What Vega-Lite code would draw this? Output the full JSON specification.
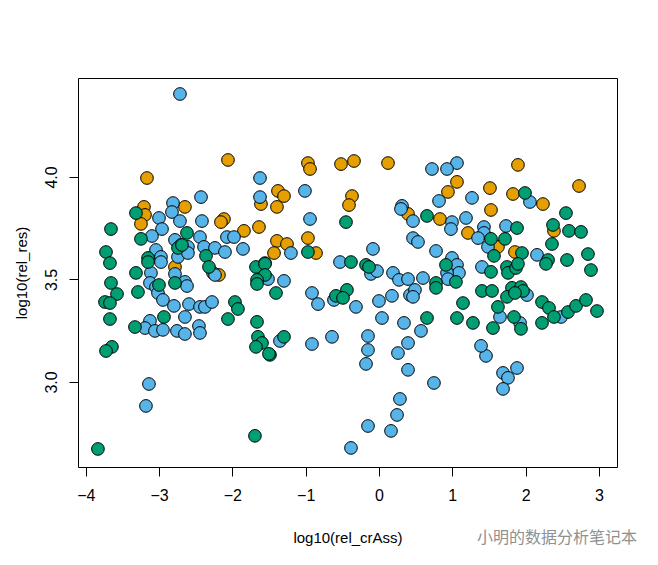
{
  "$schema": "https://vega.github.io/schema/vega-lite/v6.json",
  "width": 539,
  "height": 389,
  "autosize": {"type": "none"},
  "padding": {"left": 78, "top": 78, "right": 41, "bottom": 98},
  "background": "white",
  "config": {
    "font": "Liberation Sans",
    "view": {"stroke": "black", "strokeWidth": 1},
    "axis": {"grid": false, "domain": false, "tickColor": "black", "tickSize": 9, "tickWidth": 1, "labelColor": "black", "labelFontSize": 16, "labelFont": "Liberation Sans", "titleFont": "Liberation Sans", "titleFontSize": 15, "titleFontWeight": "normal", "titleColor": "black"}
  },
  "title": {"text": "小明的数据分析笔记本", "orient": "bottom", "anchor": "end", "font": "Noto Sans CJK SC", "fontSize": 16, "fontWeight": "normal", "color": "#909090", "dx": 20, "offset": -15},
  "data": {"values": [
    {"x": -2.06, "y": 4.083, "g": "A"}, {"x": -3.165, "y": 3.995, "g": "A"}, {"x": -2.647, "y": 3.854, "g": "A"}, {"x": -3.206, "y": 3.854, "g": "A"}, {"x": -3.192, "y": 3.815, "g": "A"}, {"x": -3.247, "y": 3.771, "g": "A"}, {"x": -2.115, "y": 3.795, "g": "A"}, {"x": -2.156, "y": 3.78, "g": "A"}, {"x": -1.842, "y": 3.737, "g": "A"}, {"x": -1.637, "y": 3.756, "g": "A"}, {"x": -2.783, "y": 3.561, "g": "A"}, {"x": -2.183, "y": 3.522, "g": "A"}, {"x": -0.969, "y": 4.068, "g": "A"}, {"x": -0.941, "y": 4.039, "g": "A"}, {"x": -0.518, "y": 4.063, "g": "A"}, {"x": -0.341, "y": 4.078, "g": "A"}, {"x": 0.123, "y": 4.068, "g": "A"}, {"x": -1.378, "y": 3.932, "g": "A"}, {"x": -1.296, "y": 3.907, "g": "A"}, {"x": -1.61, "y": 3.868, "g": "A"}, {"x": -1.392, "y": 3.854, "g": "A"}, {"x": -0.368, "y": 3.907, "g": "A"}, {"x": -0.409, "y": 3.863, "g": "A"}, {"x": 0.396, "y": 3.82, "g": "A"}, {"x": 0.832, "y": 3.795, "g": "A"}, {"x": -1.392, "y": 3.688, "g": "A"}, {"x": -1.255, "y": 3.673, "g": "A"}, {"x": -0.969, "y": 3.702, "g": "A"}, {"x": -1.432, "y": 3.629, "g": "A"}, {"x": -0.859, "y": 3.629, "g": "A"}, {"x": 1.896, "y": 4.059, "g": "A"}, {"x": 1.064, "y": 3.976, "g": "A"}, {"x": 1.514, "y": 3.946, "g": "A"}, {"x": 2.729, "y": 3.956, "g": "A"}, {"x": 0.941, "y": 3.927, "g": "A"}, {"x": 1.828, "y": 3.917, "g": "A"}, {"x": 2.237, "y": 3.868, "g": "A"}, {"x": 1.528, "y": 3.839, "g": "A"}, {"x": 2.387, "y": 3.737, "g": "A"}, {"x": 1.214, "y": 3.727, "g": "A"}, {"x": 1.623, "y": 3.659, "g": "A"}, {"x": 1.855, "y": 3.634, "g": "A"},
    {"x": -2.715, "y": 4.405, "g": "B"}, {"x": -1.623, "y": 3.995, "g": "B"}, {"x": -2.428, "y": 3.902, "g": "B"}, {"x": -2.81, "y": 3.873, "g": "B"}, {"x": -1.623, "y": 3.902, "g": "B"}, {"x": -2.824, "y": 3.829, "g": "B"}, {"x": -3.001, "y": 3.8, "g": "B"}, {"x": -2.715, "y": 3.785, "g": "B"}, {"x": -2.415, "y": 3.785, "g": "B"}, {"x": -2.96, "y": 3.746, "g": "B"}, {"x": -3.097, "y": 3.712, "g": "B"}, {"x": -2.442, "y": 3.707, "g": "B"}, {"x": -2.074, "y": 3.707, "g": "B"}, {"x": -1.978, "y": 3.707, "g": "B"}, {"x": -2.783, "y": 3.693, "g": "B"}, {"x": -2.701, "y": 3.668, "g": "B"}, {"x": -2.606, "y": 3.659, "g": "B"}, {"x": -2.387, "y": 3.659, "g": "B"}, {"x": -2.237, "y": 3.654, "g": "B"}, {"x": -2.101, "y": 3.634, "g": "B"}, {"x": -1.855, "y": 3.649, "g": "B"}, {"x": -3.042, "y": 3.644, "g": "B"}, {"x": -2.974, "y": 3.61, "g": "B"}, {"x": -2.742, "y": 3.61, "g": "B"}, {"x": -2.606, "y": 3.629, "g": "B"}, {"x": -2.974, "y": 3.585, "g": "B"}, {"x": -3.111, "y": 3.532, "g": "B"}, {"x": -2.783, "y": 3.527, "g": "B"}, {"x": -2.265, "y": 3.532, "g": "B"}, {"x": -2.237, "y": 3.522, "g": "B"}, {"x": -3.124, "y": 3.483, "g": "B"}, {"x": -3.042, "y": 3.463, "g": "B"}, {"x": -2.647, "y": 3.488, "g": "B"}, {"x": -2.619, "y": 3.468, "g": "B"}, {"x": -3.015, "y": 3.434, "g": "B"}, {"x": -2.947, "y": 3.4, "g": "B"}, {"x": -2.797, "y": 3.371, "g": "B"}, {"x": -2.592, "y": 3.38, "g": "B"}, {"x": -2.442, "y": 3.366, "g": "B"}, {"x": -2.374, "y": 3.366, "g": "B"}, {"x": -2.278, "y": 3.39, "g": "B"}, {"x": -2.647, "y": 3.317, "g": "B"}, {"x": -3.124, "y": 3.298, "g": "B"}, {"x": -3.192, "y": 3.263, "g": "B"}, {"x": -3.056, "y": 3.249, "g": "B"}, {"x": -2.947, "y": 3.254, "g": "B"}, {"x": -2.756, "y": 3.249, "g": "B"}, {"x": -2.647, "y": 3.234, "g": "B"}, {"x": -2.456, "y": 3.273, "g": "B"}, {"x": -2.442, "y": 3.239, "g": "B"}, {"x": -3.138, "y": 2.99, "g": "B"}, {"x": -3.179, "y": 2.883, "g": "B"},
    {"x": 0.723, "y": 4.039, "g": "B"}, {"x": -1.01, "y": 3.932, "g": "B"}, {"x": 0.314, "y": 3.859, "g": "B"}, {"x": 0.3, "y": 3.844, "g": "B"}, {"x": 0.464, "y": 3.785, "g": "B"}, {"x": 0.819, "y": 3.883, "g": "B"}, {"x": -0.941, "y": 3.795, "g": "B"}, {"x": 0.464, "y": 3.702, "g": "B"}, {"x": 0.532, "y": 3.683, "g": "B"}, {"x": -0.082, "y": 3.649, "g": "B"}, {"x": 0.778, "y": 3.639, "g": "B"}, {"x": -1.201, "y": 3.629, "g": "B"}, {"x": -0.532, "y": 3.585, "g": "B"}, {"x": -1.555, "y": 3.58, "g": "B"}, {"x": -1.514, "y": 3.502, "g": "B"}, {"x": -1.296, "y": 3.493, "g": "B"}, {"x": -0.109, "y": 3.527, "g": "B"}, {"x": -0.027, "y": 3.541, "g": "B"}, {"x": 0.191, "y": 3.532, "g": "B"}, {"x": 0.273, "y": 3.498, "g": "B"}, {"x": 0.396, "y": 3.502, "g": "B"}, {"x": 0.6, "y": 3.507, "g": "B"}, {"x": -0.914, "y": 3.434, "g": "B"}, {"x": -0.832, "y": 3.38, "g": "B"}, {"x": -0.614, "y": 3.4, "g": "B"}, {"x": -0.314, "y": 3.366, "g": "B"}, {"x": 0.0, "y": 3.395, "g": "B"}, {"x": 0.177, "y": 3.42, "g": "B"}, {"x": 0.423, "y": 3.424, "g": "B"}, {"x": 0.491, "y": 3.449, "g": "B"}, {"x": 0.464, "y": 3.415, "g": "B"}, {"x": 0.041, "y": 3.312, "g": "B"}, {"x": 0.341, "y": 3.288, "g": "B"}, {"x": 0.573, "y": 3.249, "g": "B"}, {"x": -1.351, "y": 3.2, "g": "B"}, {"x": -0.914, "y": 3.185, "g": "B"}, {"x": -0.641, "y": 3.22, "g": "B"}, {"x": -0.15, "y": 3.224, "g": "B"}, {"x": -0.15, "y": 3.156, "g": "B"}, {"x": 0.396, "y": 3.19, "g": "B"}, {"x": 0.259, "y": 3.141, "g": "B"}, {"x": -0.177, "y": 3.088, "g": "B"}, {"x": 0.396, "y": 3.059, "g": "B"}, {"x": 0.75, "y": 2.995, "g": "B"}, {"x": 1.46, "y": 3.127, "g": "B"}, {"x": 1.392, "y": 3.176, "g": "B"}, {"x": 1.692, "y": 3.044, "g": "B"}, {"x": 1.76, "y": 3.02, "g": "B"}, {"x": 1.883, "y": 3.068, "g": "B"}, {"x": 1.692, "y": 2.966, "g": "B"}, {"x": 0.286, "y": 2.917, "g": "B"}, {"x": 0.246, "y": 2.839, "g": "B"}, {"x": -0.15, "y": 2.785, "g": "B"}, {"x": 0.164, "y": 2.761, "g": "B"}, {"x": -0.382, "y": 2.678, "g": "B"},
    {"x": 1.064, "y": 4.068, "g": "B"}, {"x": 0.928, "y": 4.039, "g": "B"}, {"x": 1.269, "y": 3.898, "g": "B"}, {"x": 2.06, "y": 3.878, "g": "B"}, {"x": 0.996, "y": 3.78, "g": "B"}, {"x": 0.982, "y": 3.746, "g": "B"}, {"x": 1.187, "y": 3.8, "g": "B"}, {"x": 1.432, "y": 3.756, "g": "B"}, {"x": 1.432, "y": 3.727, "g": "B"}, {"x": 1.351, "y": 3.702, "g": "B"}, {"x": 1.733, "y": 3.761, "g": "B"}, {"x": 1.487, "y": 3.659, "g": "B"}, {"x": 2.156, "y": 3.62, "g": "B"}, {"x": 0.996, "y": 3.605, "g": "B"}, {"x": 1.064, "y": 3.571, "g": "B"}, {"x": 1.091, "y": 3.532, "g": "B"}, {"x": 0.928, "y": 3.532, "g": "B"}, {"x": 0.941, "y": 3.502, "g": "B"}, {"x": 1.405, "y": 3.561, "g": "B"}, {"x": 2.019, "y": 3.424, "g": "B"}, {"x": 2.483, "y": 3.317, "g": "B"}, {"x": 1.651, "y": 3.317, "g": "B"}, {"x": 1.924, "y": 3.288, "g": "B"},
    {"x": -3.315, "y": 3.824, "g": "C"}, {"x": -3.656, "y": 3.746, "g": "C"}, {"x": -2.619, "y": 3.727, "g": "C"}, {"x": -3.247, "y": 3.698, "g": "C"}, {"x": -2.742, "y": 3.654, "g": "C"}, {"x": -2.688, "y": 3.668, "g": "C"}, {"x": -3.724, "y": 3.634, "g": "C"}, {"x": -3.151, "y": 3.605, "g": "C"}, {"x": -2.36, "y": 3.615, "g": "C"}, {"x": -3.67, "y": 3.58, "g": "C"}, {"x": -3.151, "y": 3.585, "g": "C"}, {"x": -3.315, "y": 3.532, "g": "C"}, {"x": -2.319, "y": 3.561, "g": "C"}, {"x": -1.678, "y": 3.561, "g": "C"}, {"x": -1.555, "y": 3.576, "g": "C"}, {"x": -1.555, "y": 3.522, "g": "C"}, {"x": -1.664, "y": 3.498, "g": "C"}, {"x": -1.664, "y": 3.478, "g": "C"}, {"x": -3.656, "y": 3.483, "g": "C"}, {"x": -3.574, "y": 3.429, "g": "C"}, {"x": -3.288, "y": 3.439, "g": "C"}, {"x": -3.001, "y": 3.473, "g": "C"}, {"x": -2.783, "y": 3.483, "g": "C"}, {"x": -3.738, "y": 3.39, "g": "C"}, {"x": -3.67, "y": 3.385, "g": "C"}, {"x": -1.965, "y": 3.39, "g": "C"}, {"x": -1.924, "y": 3.356, "g": "C"}, {"x": -2.06, "y": 3.307, "g": "C"}, {"x": -3.67, "y": 3.307, "g": "C"}, {"x": -2.933, "y": 3.317, "g": "C"}, {"x": -3.329, "y": 3.268, "g": "C"}, {"x": -1.664, "y": 3.293, "g": "C"}, {"x": -1.651, "y": 3.22, "g": "C"}, {"x": -1.596, "y": 3.19, "g": "C"}, {"x": -1.678, "y": 3.171, "g": "C"}, {"x": -3.643, "y": 3.171, "g": "C"}, {"x": -3.724, "y": 3.151, "g": "C"}, {"x": -1.487, "y": 3.132, "g": "C"}, {"x": -1.692, "y": 2.737, "g": "C"}, {"x": -3.834, "y": 2.673, "g": "C"},
    {"x": 0.655, "y": 3.81, "g": "C"}, {"x": -0.45, "y": 3.78, "g": "C"}, {"x": -0.969, "y": 3.634, "g": "C"}, {"x": -0.382, "y": 3.585, "g": "C"}, {"x": -0.177, "y": 3.571, "g": "C"}, {"x": -0.136, "y": 3.561, "g": "C"}, {"x": 0.778, "y": 3.483, "g": "C"}, {"x": 0.778, "y": 3.459, "g": "C"}, {"x": -1.405, "y": 3.434, "g": "C"}, {"x": -0.587, "y": 3.42, "g": "C"}, {"x": -0.437, "y": 3.449, "g": "C"}, {"x": -0.491, "y": 3.41, "g": "C"}, {"x": 0.655, "y": 3.312, "g": "C"}, {"x": -1.296, "y": 3.22, "g": "C"}, {"x": -1.501, "y": 3.137, "g": "C"},
    {"x": 1.992, "y": 3.922, "g": "C"}, {"x": 2.551, "y": 3.824, "g": "C"}, {"x": 2.374, "y": 3.766, "g": "C"}, {"x": 2.592, "y": 3.737, "g": "C"}, {"x": 2.756, "y": 3.732, "g": "C"}, {"x": 1.883, "y": 3.751, "g": "C"}, {"x": 1.528, "y": 3.698, "g": "C"}, {"x": 1.719, "y": 3.698, "g": "C"}, {"x": 2.36, "y": 3.673, "g": "C"}, {"x": 1.569, "y": 3.615, "g": "C"}, {"x": 1.951, "y": 3.629, "g": "C"}, {"x": 2.306, "y": 3.595, "g": "C"}, {"x": 2.278, "y": 3.576, "g": "C"}, {"x": 2.565, "y": 3.595, "g": "C"}, {"x": 2.851, "y": 3.624, "g": "C"}, {"x": 2.892, "y": 3.546, "g": "C"}, {"x": 0.914, "y": 3.571, "g": "C"}, {"x": 1.05, "y": 3.488, "g": "C"}, {"x": 1.528, "y": 3.537, "g": "C"}, {"x": 1.746, "y": 3.561, "g": "C"}, {"x": 1.76, "y": 3.532, "g": "C"}, {"x": 1.869, "y": 3.556, "g": "C"}, {"x": 1.896, "y": 3.576, "g": "C"}, {"x": 1.405, "y": 3.444, "g": "C"}, {"x": 1.542, "y": 3.444, "g": "C"}, {"x": 1.814, "y": 3.459, "g": "C"}, {"x": 1.937, "y": 3.463, "g": "C"}, {"x": 1.965, "y": 3.444, "g": "C"}, {"x": 1.746, "y": 3.415, "g": "C"}, {"x": 1.855, "y": 3.434, "g": "C"}, {"x": 1.146, "y": 3.385, "g": "C"}, {"x": 1.623, "y": 3.366, "g": "C"}, {"x": 2.224, "y": 3.39, "g": "C"}, {"x": 2.319, "y": 3.361, "g": "C"}, {"x": 2.387, "y": 3.317, "g": "C"}, {"x": 2.578, "y": 3.341, "g": "C"}, {"x": 2.688, "y": 3.371, "g": "C"}, {"x": 2.824, "y": 3.4, "g": "C"}, {"x": 2.974, "y": 3.346, "g": "C"}, {"x": 1.064, "y": 3.312, "g": "C"}, {"x": 1.282, "y": 3.288, "g": "C"}, {"x": 1.555, "y": 3.263, "g": "C"}, {"x": 1.842, "y": 3.317, "g": "C"}, {"x": 1.937, "y": 3.259, "g": "C"}, {"x": 2.224, "y": 3.288, "g": "C"}
  ]},
  "mark": {"type": "point", "shape": "circle", "filled": true, "size": 160, "stroke": "black", "strokeWidth": 1, "opacity": 1},
  "encoding": {
    "x": {"field": "x", "type": "quantitative", "title": "log10(rel_crAss)",
      "scale": {"domain": [-4.106, 3.247], "nice": false, "zero": false},
      "axis": {"values": [-4, -3, -2, -1, 0, 1, 2, 3], "labelPadding": 11, "labelFlush": false, "titleY": 75, "titleBaseline": "alphabetic"}},
    "y": {"field": "y", "type": "quantitative", "title": "log10(rel_res)",
      "scale": {"domain": [2.585, 4.483], "nice": false, "zero": false},
      "axis": {"values": [3.0, 3.5, 4.0], "format": ".1f", "labelAngle": -90, "labelAlign": "center", "labelBaseline": "bottom", "labelPadding": 10, "labelFlush": false, "titleX": -52, "titleBaseline": "alphabetic"}},
    "color": {"field": "g", "type": "nominal", "legend": null,
      "scale": {"domain": ["A", "B", "C"], "range": ["#E69F00", "#56B4E9", "#009E73"]}}
  }
}
